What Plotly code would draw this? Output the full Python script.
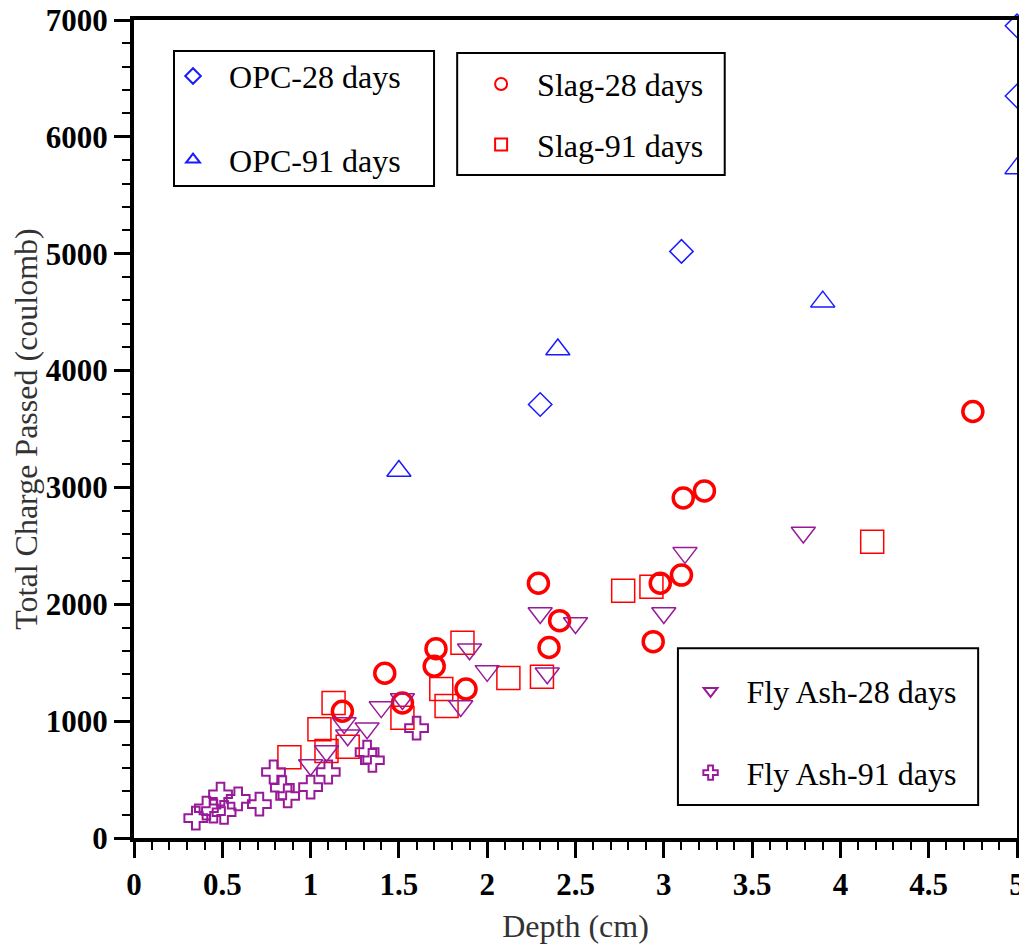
import plotly.graph_objects as go

# Depth (cm) / total charge passed (coulomb)
opc28_x = [2.30, 3.10, 5.00, 5.00]
opc28_y = [3710, 5020, 6950, 6350]

opc91_x = [1.50, 2.40, 3.90, 5.00]
opc91_y = [3140, 4180, 4590, 5730]

slag28_x = [2.29, 3.11, 3.23, 2.98, 3.10, 2.94, 2.41, 2.35, 1.71, 1.70, 1.42, 1.88, 1.18, 1.52, 4.75]
slag28_y = [2180, 2910, 2970, 2180, 2250, 1680, 1860, 1630, 1620, 1470, 1410, 1275, 1085, 1155, 3650]

slag91_x = [0.88, 1.05, 1.13, 1.09, 1.21, 1.52, 1.74, 1.77, 1.86, 2.12, 2.31, 2.77, 2.93, 4.18]
slag91_y = [690, 930, 1155, 745, 780, 1030, 1275, 1130, 1670, 1370, 1380, 2115, 2150, 2535]

fa28_x = [2.30, 2.50, 3.12, 3.00, 2.34, 2.00, 1.90, 1.85, 1.52, 1.40, 3.79, 1.21, 1.32, 1.19, 1.09, 1.00]
fa28_y = [1925, 1840, 2440, 1925, 1410, 1430, 1615, 1130, 1190, 1120, 2615, 880, 940, 985, 745, 625]

fa91_x = [0.35, 0.41, 0.45, 0.49, 0.51, 0.59, 0.71, 0.79, 0.84, 0.87, 1.00, 1.10, 1.32, 1.35, 1.60]
fa91_y = [170, 255, 230, 375, 220, 335, 290, 565, 430, 360, 435, 565, 735, 665, 940]

BLUE = "#1a1aff"
RED = "#ff0000"
PURPLE = "#991a99"
FONT = "Liberation Serif"
PAD = "\u00a0\u00a0"

series = [
    ("OPC-28 days", opc28_x, opc28_y, "diamond-open", 18, BLUE, 1.5, "legend"),
    ("OPC-91 days", opc91_x, opc91_y, "triangle-up-open", 21, BLUE, 1.5, "legend"),
    ("Slag-28 days", slag28_x, slag28_y, "circle-open", 20, RED, 3.5, "legend2"),
    ("Slag-91 days", slag91_x, slag91_y, "square-open", 23, RED, 1.5, "legend2"),
    ("Fly Ash-28 days", fa28_x, fa28_y, "triangle-down-open", 21, PURPLE, 1.5, "legend3"),
    ("Fly Ash-91 days", fa91_x, fa91_y, "cross-open", 19, PURPLE, 2, "legend3"),
]

fig = go.Figure()
for nazwa, xs, ys, symbol, size, kolor, lw, leg in series:
    fig.add_trace(go.Scatter(
        x=xs, y=ys, mode="markers", name=PAD + nazwa,
        legend=leg, legendgroup=nazwa, cliponaxis=False,
        marker=dict(symbol=symbol, size=size, color=kolor,
                    line=dict(color=kolor, width=lw)),
    ))

legend_font = dict(family=FONT, size=32, color="black")
common_legend = dict(font=legend_font, bgcolor="rgba(0,0,0,0)", borderwidth=0,
                     itemsizing="constant", xanchor="left", yanchor="top")

# legend boxes (paper coordinates)
boxes = [
    (0.0453, 0.797, 0.3398, 0.962),
    (0.366, 0.8105, 0.669, 0.9597),
    (0.616, 0.0403, 0.956, 0.232),
]
shapes = [dict(type="rect", xref="paper", yref="paper", x0=a, y0=b, x1=c, y1=d,
               line=dict(color="black", width=2), layer="above") for a, b, c, d in boxes]

axis_common = dict(
    showline=True, linecolor="black", linewidth=4, mirror=True,
    ticks="outside", tickcolor="black", tickwidth=3, ticklen=16,
    showgrid=False, zeroline=False, automargin=False,
    ticklabeloverflow="allow",
    tickfont=dict(family=FONT, size=31, color="black", weight="bold"),
)
title_font = dict(family=FONT, size=32, color="#333333")

# page body adds an 8px offset, so the figure is 8px smaller than the window
fig.update_layout(
    width=1019, height=937,
    margin=dict(l=126, r=10, t=12, b=107),
    paper_bgcolor="white", plot_bgcolor="white",
    font=dict(family=FONT),
    shapes=shapes,
    legend=dict(**common_legend, x=0.0442, y=0.9649, tracegroupgap=39),
    legend2=dict(**common_legend, x=0.3931, y=0.9552, tracegroupgap=16),
    legend3=dict(**common_legend, x=0.6303, y=0.2131, tracegroupgap=37),
    xaxis=dict(
        **axis_common, range=[0, 5], dtick=0.5, tick0=0,
        minor=dict(dtick=0.1, ticks="outside", ticklen=8, tickwidth=2, tickcolor="black"),
        title=dict(text="Depth (cm)", font=title_font, standoff=14),
    ),
    yaxis=dict(
        **axis_common, range=[0, 7000], dtick=1000, tick0=0,
        minor=dict(dtick=200, ticks="outside", ticklen=8, tickwidth=2, tickcolor="black"),
        title=dict(text="Total Charge Passed (coulomb)", font=title_font, standoff=6),
    ),
)

fig.write_html("out.html")
